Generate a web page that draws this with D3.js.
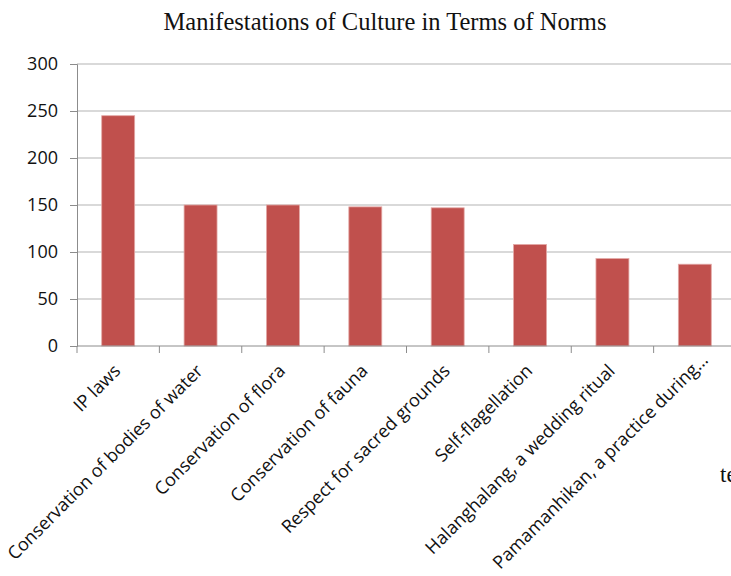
<!DOCTYPE html>
<html>
<head>
<meta charset="utf-8">
<script src="https://cdn.jsdelivr.net/npm/d3@7"></script>
<style>
  body { margin: 0; background: #fff; overflow: hidden; }
  svg { display: block; }
</style>
</head>
<body>
<svg></svg>
<script>
"use strict";

const categories = [
  "IP laws",
  "Conservation of bodies of water",
  "Conservation of flora",
  "Conservation of fauna",
  "Respect for sacred grounds",
  "Self-flagellation",
  "Halanghalang, a wedding ritual",
  "Pamamanhikan, a practice during\u2026"
];
const values = [245, 150, 150, 148, 147, 108, 93, 87];
const yTicks = [0, 50, 100, 150, 200, 250, 300];

const width = 731;
const height = 576;
const plotLeft = 77;
const plotTop = 64;
const plotRight = 736;
const plotBottom = 346;

const svg = d3.select("svg").attr("width", width).attr("height", height);

const xScale = d3
  .scaleBand()
  .domain(categories)
  .range([plotLeft, plotRight])
  .paddingInner(0.6)
  .paddingOuter(0.3);

const xStep = d3.scaleBand().domain(categories).range([plotLeft, plotRight]);

const yScale = d3.scaleLinear().domain([0, 300]).range([plotBottom, plotTop]);

// gridlines
svg
  .append("g")
  .selectAll("line")
  .data(yTicks.slice(1))
  .enter()
  .append("line")
  .attr("x1", plotLeft)
  .attr("x2", width)
  .attr("y1", (d) => yScale(d))
  .attr("y2", (d) => yScale(d))
  .attr("stroke", "#b4b4b4")
  .attr("stroke-width", 1.2);

// y axis
const yAxis = d3.axisLeft(yScale).tickValues(yTicks).tickSize(7).tickPadding(12);
const gy = svg.append("g").attr("transform", `translate(${plotLeft},0)`).call(yAxis);
gy.select(".domain").attr("stroke", "#8c8c8c");
gy.selectAll(".tick line").attr("stroke", "#8c8c8c");
gy.selectAll("text")
  .attr("font-family", "'Open Sans', sans-serif")
  .attr("font-size", 18)
  .attr("fill", "#111");

// bars
svg
  .append("g")
  .selectAll("rect")
  .data(values)
  .enter()
  .append("rect")
  .attr("x", (d, i) => xScale(categories[i]))
  .attr("width", xScale.bandwidth())
  .attr("y", (d) => yScale(d))
  .attr("height", (d) => plotBottom - yScale(d))
  .attr("fill", "#c0504d")
  .attr("stroke", "#e3a8a6")
  .attr("stroke-width", 0.8);

// x axis
svg
  .append("line")
  .attr("x1", plotLeft)
  .attr("x2", width)
  .attr("y1", plotBottom)
  .attr("y2", plotBottom)
  .attr("stroke", "#8c8c8c");

svg
  .append("g")
  .selectAll("line")
  .data(categories)
  .enter()
  .append("line")
  .attr("x1", (d) => xStep(d))
  .attr("x2", (d) => xStep(d))
  .attr("y1", plotBottom)
  .attr("y2", plotBottom + 7)
  .attr("stroke", "#8c8c8c");

// rotated labels; long ones slide up along their baseline so they stay on the page
svg
  .append("g")
  .selectAll("text")
  .data(categories)
  .enter()
  .append("text")
  .attr("text-anchor", "end")
  .attr("font-family", "'Open Sans', sans-serif")
  .attr("font-size", 18)
  .attr("fill", "#111")
  .text((d) => d)
  .each(function (d) {
    const len = this.getComputedTextLength();
    let bx = xStep(d) + xStep.bandwidth() / 2 + 3.5;
    let by = plotBottom + 26;
    const startY = by + len / Math.SQRT2;
    const over = startY - (height - 6);
    if (over > 0) {
      bx += over;
      by -= over;
    }
    d3.select(this).attr("transform", `translate(${bx},${by}) rotate(-45)`);
  });

// title
svg
  .append("text")
  .attr("x", 385)
  .attr("y", 30)
  .attr("text-anchor", "middle")
  .attr("font-family", "'Liberation Serif', serif")
  .attr("font-size", 24.5)
  .attr("fill", "#111")
  .text("Manifestations of Culture in Terms of Norms");

svg
  .append("text")
  .attr("x", 720)
  .attr("y", 482)
  .attr("font-family", "'Liberation Serif', serif")
  .attr("font-size", 23)
  .attr("fill", "#111")
  .text("te");
</script>
</body>
</html>
